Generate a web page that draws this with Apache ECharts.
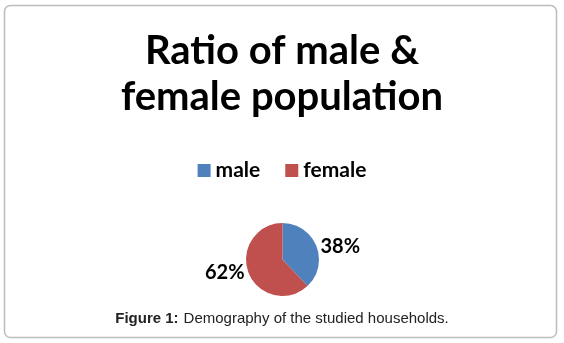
<!DOCTYPE html>
<html>
<head>
<meta charset="utf-8">
<script src="https://cdn.jsdelivr.net/npm/echarts@6/dist/echarts.min.js"></script>
<style>
  html, body { margin: 0; padding: 0; background: #fff; }
  #grafica { width: 564px; height: 343px; }
</style>
</head>
<body>
<div id="grafica"></div>
<script>
// Datos del gráfico
const categorias = ['male', 'female'];
const valores = [38, 62];
const colores = ['#4F81BD', '#C0504D'];

const myChart = echarts.init(document.getElementById('grafica'));

const option = {
    backgroundColor: '#fff',
    // Marco gris redondeado alrededor de la figura
    graphic: [
        {
            type: 'rect',
            shape: { x: 4.5, y: 5.5, width: 552, height: 332, r: 6 },
            style: { fill: 'none', stroke: '#bdbdbd', lineWidth: 1.5 },
            silent: true
        }
    ],
    title: [
        {
            text: 'Ratio of male &\nfemale population',
            left: 'center',
            top: 23,
            textStyle: {
                fontFamily: 'Lato',
                fontWeight: 'bold',
                fontSize: 40,
                lineHeight: 46,
                color: '#000'
            }
        },
        {
            // Pie de figura
            text: '{b|Figure 1:} {n|Demography of the studied households.}',
            left: 'center',
            top: 305,
            textStyle: {
                rich: {
                    b: { fontFamily: 'Liberation Sans', fontWeight: 'bold', fontSize: 15, color: '#222' },
                    n: { fontFamily: 'Liberation Sans', fontWeight: 'normal', fontSize: 15, color: '#222' }
                }
            }
        }
    ],
    legend: {
        data: categorias,
        top: 155,
        left: 'center',
        icon: 'rect',
        itemWidth: 13,
        itemHeight: 13,
        itemGap: 25,
        textStyle: {
            fontFamily: 'Lato',
            fontWeight: 'bold',
            fontSize: 21,
            color: '#000'
        }
    },
    series: [
        {
            type: 'pie',
            center: [282.5, 259.5],
            radius: 36.5,
            startAngle: 90,
            clockwise: true,
            silent: true,
            itemStyle: { borderColor: '#fff', borderWidth: 0 },
            label: {
                show: true,
                position: 'outside',
                formatter: '{c}%',
                fontFamily: 'Lato',
                fontWeight: 'bold',
                fontSize: 20,
                color: '#000',
                distanceToLabelLine: 4
            },
            labelLine: { show: false, length: 0, length2: 0 },
            data: categorias.map((nombre, i) => ({
                name: nombre,
                value: valores[i],
                itemStyle: { color: colores[i] }
            }))
        }
    ]
};

myChart.setOption(option);
</script>
</body>
</html>
